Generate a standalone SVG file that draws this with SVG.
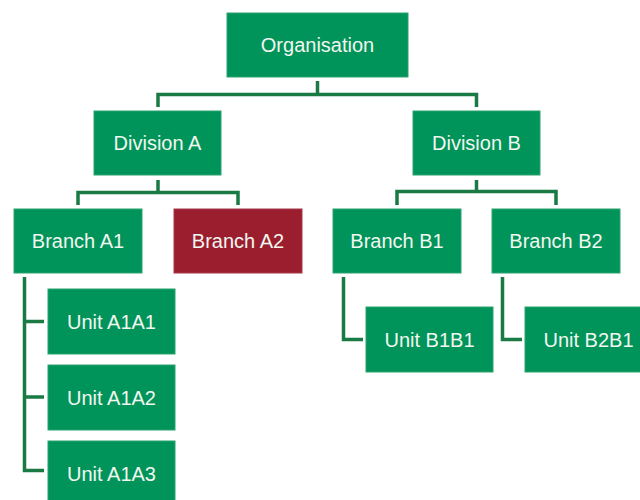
<svg xmlns="http://www.w3.org/2000/svg" width="640" height="500" viewBox="0 0 640 500">
<style>
  .box { fill: #00935a; stroke: #2aa36c; stroke-width: 1; }
  .red { fill: #9b1e2f; stroke: #a8394a; stroke-width: 1; }
  .lbl { font-family: "Liberation Sans", Arial, sans-serif; font-size: 20px; fill: #f2f7f0; text-anchor: middle; }
  .conn { fill: none; stroke: #1a7a44; stroke-width: 3.5; stroke-linejoin: miter; stroke-linecap: butt; }
</style>
<rect width="640" height="500" fill="#ffffff"/>
<g id="connectors">
  <path class="conn" d="M317.5,81 V94.5"/>
  <path class="conn" d="M158,107 V94.5 H476.5 V107"/>
  <path class="conn" d="M158,180 V192.5"/>
  <path class="conn" d="M78,205 V192.5 H238 V205"/>
  <path class="conn" d="M476.5,180 V191.5"/>
  <path class="conn" d="M397,205 V191.5 H556 V205"/>
  <path class="conn" d="M24.5,277 V470.5 H44"/>
  <path class="conn" d="M24.5,321.5 H44"/>
  <path class="conn" d="M24.5,397 H44"/>
  <path class="conn" d="M343.5,277 V339.5 H363"/>
  <path class="conn" d="M502.5,277 V339.5 H522"/>
</g>
<g id="organisation">
  <rect class="box" x="227" y="13" width="181" height="64"/>
  <text class="lbl" x="317.5" y="52">Organisation</text>
</g>
<g id="division-a">
  <rect class="box" x="94" y="111" width="127" height="64"/>
  <text class="lbl" x="157.5" y="150">Division A</text>
</g>
<g id="division-b">
  <rect class="box" x="413" y="111" width="127" height="64"/>
  <text class="lbl" x="476.5" y="150">Division B</text>
</g>
<g id="branch-a1">
  <rect class="box" x="14" y="209" width="128" height="64"/>
  <text class="lbl" x="78" y="248">Branch A1</text>
</g>
<g id="branch-a2">
  <rect class="red" x="174" y="209" width="128" height="64"/>
  <text class="lbl" x="238" y="248">Branch A2</text>
</g>
<g id="branch-b1">
  <rect class="box" x="333" y="209" width="128" height="64"/>
  <text class="lbl" x="397" y="248">Branch B1</text>
</g>
<g id="branch-b2">
  <rect class="box" x="492" y="209" width="128" height="64"/>
  <text class="lbl" x="556" y="248">Branch B2</text>
</g>
<g id="unit-a1a1">
  <rect class="box" x="48" y="289" width="127" height="65"/>
  <text class="lbl" x="111.5" y="328.5">Unit A1A1</text>
</g>
<g id="unit-a1a2">
  <rect class="box" x="48" y="365" width="127" height="65"/>
  <text class="lbl" x="111.5" y="404.5">Unit A1A2</text>
</g>
<g id="unit-a1a3">
  <rect class="box" x="48" y="441" width="127" height="65"/>
  <text class="lbl" x="111.5" y="480.5">Unit A1A3</text>
</g>
<g id="unit-b1b1">
  <rect class="box" x="366" y="307" width="127" height="65"/>
  <text class="lbl" x="429.5" y="346.5">Unit B1B1</text>
</g>
<g id="unit-b2b1">
  <rect class="box" x="525" y="307" width="127" height="65"/>
  <text class="lbl" x="588.5" y="346.5">Unit B2B1</text>
</g>
</svg>
